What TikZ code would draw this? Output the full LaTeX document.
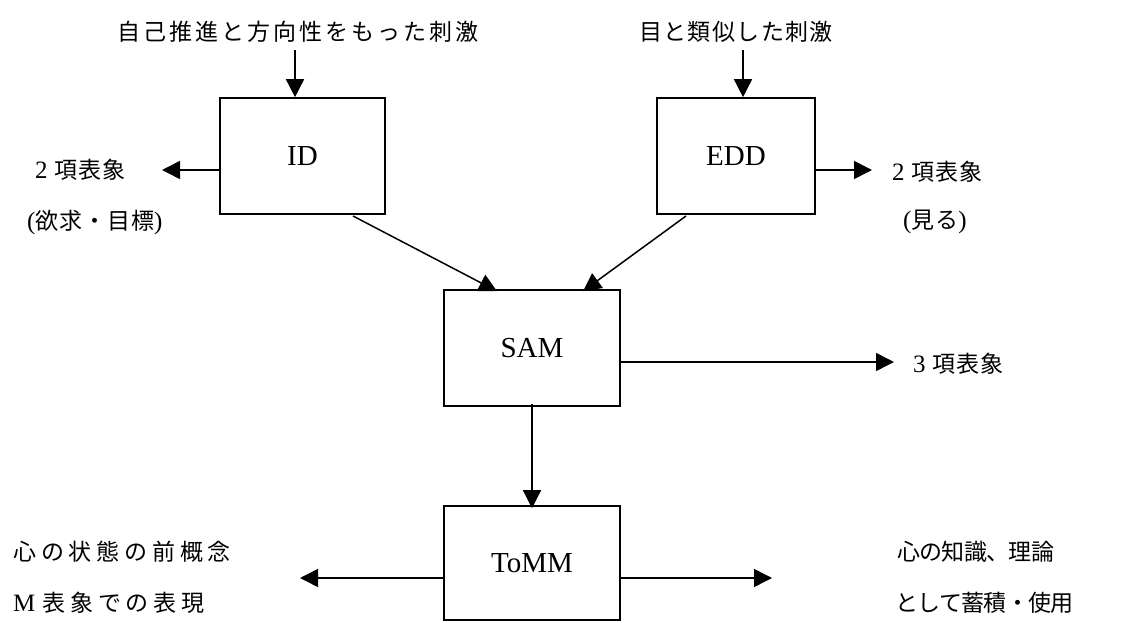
\documentclass[tikz,border=0pt]{standalone}
\usepackage{fontspec}
\setmainfont{Liberation Serif}
\newfontfamily\jp{Noto Sans CJK JP}
\usetikzlibrary{arrows.meta}
\newcommand{\J}[2][0]{{\jp\fontsize{23}{26}\selectfont\addfontfeatures{LetterSpace=#1}#2}}
\newcommand{\Lt}[1]{{\fontsize{25}{26}\selectfont #1}}
\newcommand{\gap}{\hspace{7pt}}
\begin{document}
\begin{tikzpicture}[x=1pt,y=-1pt,
  box/.style={draw,line width=1.6pt,inner sep=0pt,font=\fontsize{29}{32}\selectfont},
  arr/.style={line width=1.5pt,-{Triangle[length=18pt,width=18pt]}},
  lbl/.style={inner sep=0pt}]
\useasboundingbox (0,0) rectangle (1144,623);
% boxes
\node[box,minimum width=165pt,minimum height=116pt] (ID) at (302.5,156) {ID};
\node[box,minimum width=158pt,minimum height=116pt] (EDD) at (736,156) {EDD};
\node[box,minimum width=176pt,minimum height=116pt] (SAM) at (532,348) {SAM};
\node[box,minimum width=176pt,minimum height=114pt] (TOMM) at (532,563) {ToMM};
% labels
\node[lbl] (lab1) at (298,32) {\J[13]{自己推進と方向性をもった刺激}};
\node[lbl] (lab2) at (736,32) {\J[6]{目と類似した刺激}};
\node[lbl,anchor=west] (l2a) at (35,170) {\Lt{2}\gap\J[4]{項表象}};
\node[lbl,anchor=west] (l2b) at (27,222) {\Lt{(}\J[4]{欲求・目標}\Lt{)}};
\node[lbl,anchor=west] (r2a) at (892,172) {\Lt{2}\gap\J[4]{項表象}};
\node[lbl,anchor=west] (r2b) at (903,222) {\Lt{(}\J[4]{見る}\Lt{)}};
\node[lbl,anchor=west] (r3) at (913,364) {\Lt{3}\gap\J[4]{項表象}};
\node[lbl,anchor=west] (bl1) at (13,552) {\J[21]{心の状態の前概念}};
\node[lbl,anchor=west] (bl2) at (13,603) {\Lt{M}\gap\J[21]{表象での表現}};
\node[lbl,anchor=west] (br1) at (897,552) {\J[-3]{心の知識、理論}};
\node[lbl,anchor=west] (br2) at (895,603) {\J[-3]{として蓄積・使用}};
% connector end coordinates
\coordinate (t1) at (295,50);
\coordinate (t2) at (743,50);
\coordinate (a1) at (162,170);
\coordinate (a2) at (872,170);
\coordinate (a3) at (894,362);
\coordinate (d1) at (353,216);
\coordinate (d2) at (686,216);
\coordinate (a4) at (300,578);
\coordinate (a5) at (772,578);
% connectors
\draw[arr] (t1) -- (t1 |- ID.north);
\draw[arr] (t2) -- (t2 |- EDD.north);
\draw[arr] (ID.west |- a1) -- (a1);
\draw[arr] (EDD.east |- a2) -- (a2);
\draw[arr] (d1) -- ([xshift=-35pt,yshift=-2pt]SAM.north);
\draw[arr] (d2) -- ([xshift=51pt,yshift=-2pt]SAM.north);
\draw[arr] (SAM.east |- a3) -- (a3);
\draw[arr] ([yshift=3pt]SAM.south) -- ([yshift=-3pt]TOMM.north);
\draw[arr] (TOMM.west |- a4) -- (a4);
\draw[arr] (TOMM.east |- a5) -- (a5);
\end{tikzpicture}
\end{document}
